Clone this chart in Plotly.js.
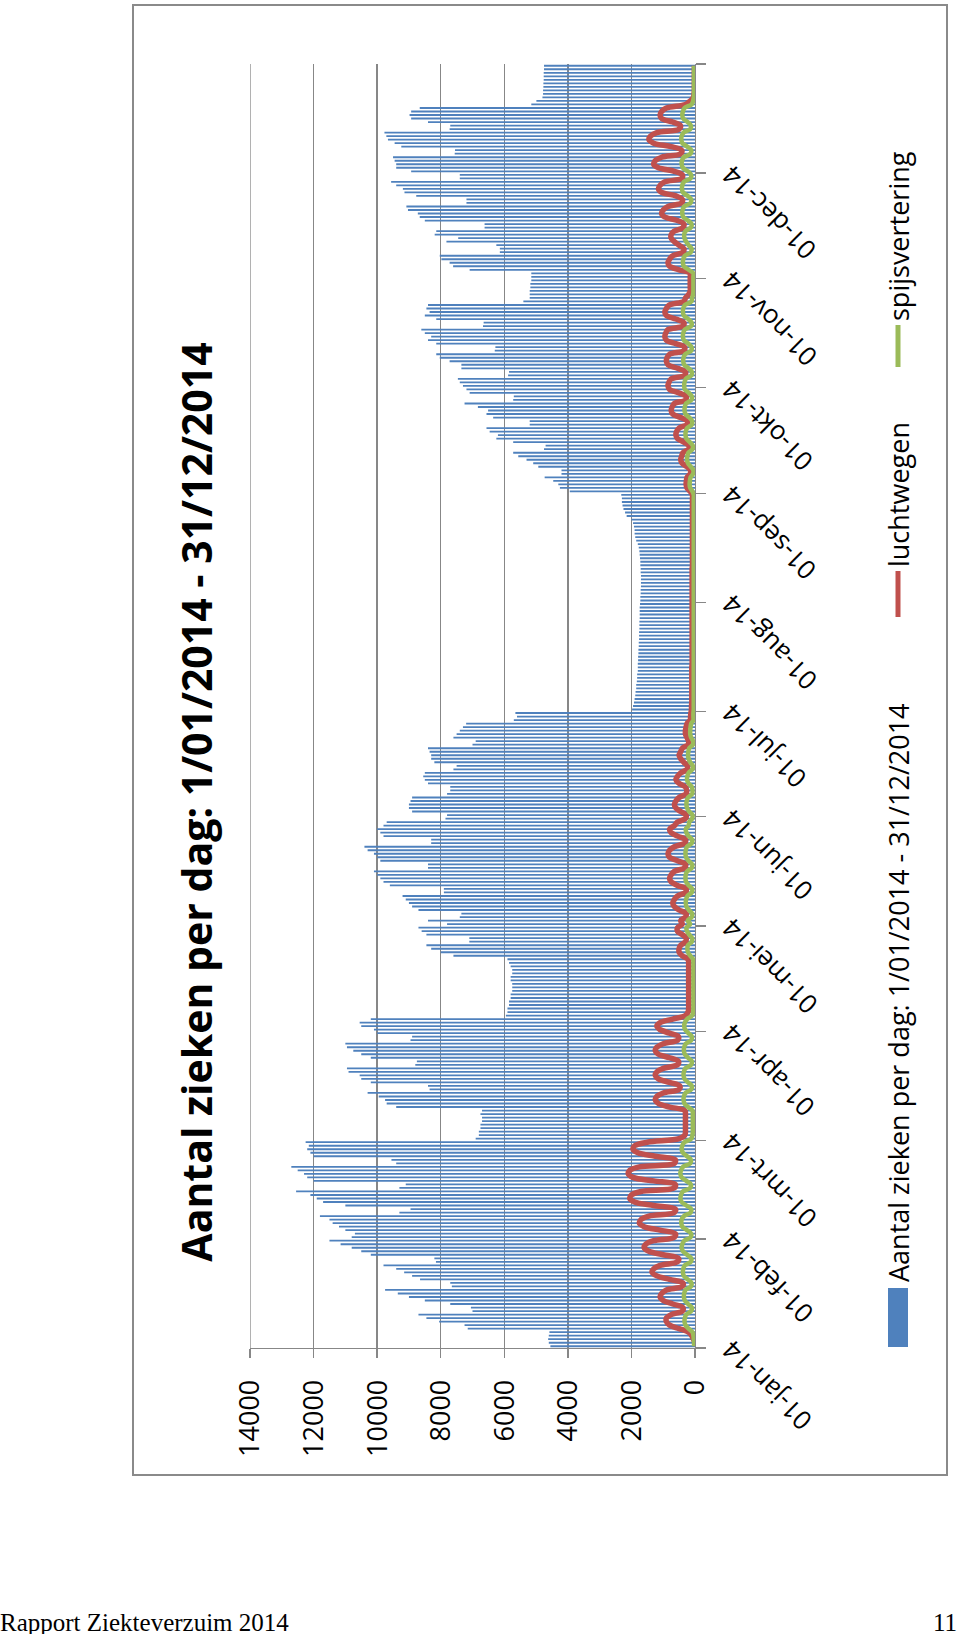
<!DOCTYPE html>
<html>
<head>
<meta charset="utf-8">
<script src="https://cdn.plot.ly/plotly-3.0.1.min.js"></script>
<style>
  html, body { margin:0; padding:0; background:#fff; }
  body { position:relative; width:960px; height:1634px; overflow:hidden; }
  #rot { position:absolute; left:132px; top:1476px; width:1472px; height:816px;
         transform-origin:0 0; transform:rotate(-90deg); }
  #chart { position:absolute; left:0; top:0; width:1472px; height:816px; }
  #frame { position:absolute; left:0; top:0; width:1472px; height:816px; box-sizing:border-box;
           border:2.5px solid #8a8a8a; pointer-events:none; }
  .foot { position:absolute; top:1610px; font-family:"Liberation Serif", serif; font-size:25px;
          line-height:25px; color:#000; white-space:nowrap; }
</style>
</head>
<body>
<div id="rot"><div id="chart"></div><div id="frame"></div></div>
<div class="foot" style="left:0px;">Rapport Ziekteverzuim 2014</div>
<div class="foot" style="right:3px;">11</div>
<script>
// ---------- data ----------
const chartTitle = 'Aantal zieken per dag: 1/01/2014 - 31/12/2014';
const seriesNames = ['Aantal zieken per dag: 1/01/2014 - 31/12/2014', 'luchtwegen', 'spijsvertering'];
const monthTicks = ['2014-01-01','2014-02-01','2014-03-01','2014-04-01','2014-05-01','2014-06-01',
                    '2014-07-01','2014-08-01','2014-09-01','2014-10-01','2014-11-01','2014-12-01','2015-01-01'];
const monthLabels = ['01-jan-14','01-feb-14','01-mrt-14','01-apr-14','01-mei-14','01-jun-14',
                     '01-jul-14','01-aug-14','01-sep-14','01-okt-14','01-nov-14','01-dec-14',''];
const valueTicks = [0,2000,4000,6000,8000,10000,12000,14000];
const valueLabels = ['0','2000','4000','6000','8000','10000','12000','14000'];

// Aantal zieken per dag (one value per day, 1 jan .. 31 dec 2014)
const sick = [
 // jan
 4550,4600,4620,4600,4580, 7150,7250,8050,8450,8700,7000,7050, 7700,8500,9000,9350,9750,7650,7700,
 8650,8900,9150,9400,9800,8150,8200, 10200,10500,10800,11150,11500,
 // feb
 10800,10700, 11000,11200,11400,11500,11800,9300,8950, 11000,11700,11900,12100,12550,9300,9100,
 12000,12200,12300,12500,12700,9400,9550, 12000,12100,12200,12150,12250,
 // mrt
 6900,6800,6800,6750,6750,6700,6700,6750,6700, 9400,9700,9750,9950,10300,8350,8400,
 10200,10500,10550,10900,10950,8800,8750, 10200,10500,10750,10950,11000,8950,8900, 10000,
 // apr
 10100,10500,10550,10200, 5950,5900,5900,5850,5850,5800,5800,5750,5750,5750,5800,5800,5750,5750,5800,5850,5900,
 7600,8000,8300,8450,7100,7100, 8450,8600,8700,
 // mei
 7800,8400,7400,7350, 8700,8900,9000,9100,9200,7900,7900, 9600,9800,9900,10000,10100,8400,8400,
 9900,10000,10100,10300,10400,8300,8300, 9800,9900,10000,9800,9700,7850,
 // jun
 7800, 8900,9000,9000,8950,8900,7800,7700, 7700,8400,8500,8550,8500,7600,7500,
 8200,8300,8300,8350,8400,7000,6900, 7600,7500,7400,7300,7200,5700,5600, 5650,
 // jul
 1980,1950,1920,1900,1880,1870,1850,1850,1830,1820, 1820,1800,1800,1800,1790,1790,1780,1780,1770,1770,
 1760,1760,1760,1750,1750,1750,1740,1740,1740,1740,1730,
 // aug
 1720,1720,1710,1710,1700,1700,1700,1700,1710,1710,1720,1720,1730,1740,1750,1770,1800,
 1850,1880,1900,1900,1920,1950,2000, 2150,2200,2250,2280,2300,2300,2320,
 // sep
 3940,4250,4300,4460,4730,4200,4200, 4930,5090,5300,5560,5720,4750,4700,
 5720,6250,6200,6460,6560,5200,5200, 6350,6560,6510,6830,7250,5720,5700, 7090,7190,
 // okt
 7300,7400,7460,5880,5850, 7350,7350,7720,8030,8140,6300,6280, 8140,8400,8300,8500,8610,6670,6650,
 8140,8500,8350,8450,8400,5400,5200, 5200,5200,5180,5180,5150,
 // nov
 5150,5150, 7090,7610,7720,7980,8030,6140,6140, 6250,7820,7450,8190,8140,6620,6620,
 8500,8660,8720,9030,9080,7190,7190, 8770,9140,9190,9400,9560,7400,7400,
 // dec
 8930,9400,9400,9450,9500,7560,7550, 9240,9450,9660,9710,9770,7720,7700,
 8400,8930,8980,8930,8660,5150,4990, 4800,4780,4780,4770,4770,4760,4760,4760,4750,4750
];

// luchtwegen
const resp = [
 // jan
 0,0,50,100,200, 500,800,900,900,750,400,380, 700,1000,1100,1050,900,400,380,
 800,1200,1350,1300,1100,550,520, 1000,1450,1600,1550,1300,
 // feb
 650,620, 1100,1600,1750,1700,1450,650,620, 1300,1900,2050,2000,1700,650,620,
 1300,1950,2100,2050,1750,650,620, 1250,1800,1950,1900,1500,
 // mrt
 500,320,300,300,300,300,300,300,320, 800,1150,1250,1200,1000,500,480,
 800,1150,1250,1200,1000,550,520, 800,1150,1250,1200,1000,550,520, 800,
 // apr
 1100,1200,1100,700, 300,220,200,200,200,200,200,200,200,200,200,200,200,200,200,200,220,
 400,500,500,450,300,280, 400,550,550,
 // mei
 400,450,300,280, 500,650,700,650,550,300,280, 550,750,800,750,650,330,300,
 550,800,850,800,650,330,300, 550,750,800,650,550,300,
 // jun
 280, 450,600,650,600,500,280,260, 300,500,600,550,450,250,240,
 350,450,500,450,400,220,200, 250,300,300,280,250,150,140, 130,
 // jul
 110,110,100,100,100,100,100,100,100,100, 100,100,100,90,90,90,90,90,90,90,
 90,90,90,90,90,90,90,90,90,90,90,
 // aug
 90,90,90,90,90,90,90,90,90,90, 80,80,80,80,80,80,80,80,80,80,
 80,80,80,80,80,80,80,80,80,80,80,
 // sep
 150,250,280,270,250,150,140, 250,400,450,420,380,200,190,
 350,550,600,580,500,250,240, 450,700,750,720,650,300,280, 500,800,
 // okt
 850,820,750,330,300, 550,850,900,880,800,350,330, 600,900,950,920,850,380,350,
 600,900,950,900,800,350,300, 200,150,150,150,150,
 // nov
 150,150, 500,800,850,800,700,380,350, 500,650,750,750,650,380,350,
 550,950,1050,1000,850,420,400, 600,1050,1150,1100,950,420,400,
 // dec
 650,1150,1300,1250,1050,450,420, 750,1300,1450,1400,1200,500,460,
 700,1050,1100,1050,900,300,150, 50,30,20,20,20,20,20,20,20,20
];

// spijsvertering
const dig = [
 // jan
 30,30,40,50,80, 200,300,330,320,280,120,100, 220,320,350,340,300,130,110,
 230,350,380,370,320,130,120, 250,380,420,400,340,
 // feb
 140,120, 250,400,430,420,350,140,120, 270,420,460,440,380,150,130,
 270,420,460,440,380,150,130, 250,380,420,400,330,
 // mrt
 120,80,70,70,70,70,70,70,80, 220,330,360,350,300,120,100,
 220,330,360,350,300,120,100, 220,320,350,340,290,120,100, 210,
 // apr
 310,340,320,250, 90,60,50,50,50,50,50,50,50,50,50,50,50,50,50,50,60,
 150,220,240,220,100,90, 180,250,270,
 // mei
 150,230,100,90, 190,270,290,280,240,100,90, 200,280,300,290,250,100,90,
 200,280,300,290,250,100,90, 200,270,290,200,180,90,
 // jun
 80, 180,250,270,260,220,90,80, 100,200,250,240,200,80,70,
 150,200,220,210,180,70,60, 120,150,150,140,120,50,50, 50,
 // jul
 40,40,40,40,40,40,40,40,40,40, 40,40,40,40,40,40,40,40,40,40,
 40,40,40,40,40,40,40,40,40,40,40,
 // aug
 40,40,40,40,40,40,40,40,40,40, 40,40,40,40,40,40,40,40,40,40,
 40,40,40,40,40,40,40,40,40,40,40,
 // sep
 80,150,170,160,140,60,50, 130,220,250,240,210,80,70,
 160,270,300,290,250,100,90, 180,300,330,320,280,110,100, 190,320,
 // okt
 340,330,290,110,100, 200,340,370,360,310,120,110, 210,350,380,370,320,120,110,
 210,350,380,370,320,110,90, 60,50,50,50,50,
 // nov
 50,50, 200,350,380,370,320,130,110, 200,280,330,340,300,130,110,
 220,370,400,390,340,140,120, 230,380,410,400,350,140,120,
 // dec
 230,380,420,410,350,140,120, 240,400,430,420,360,150,130,
 230,370,400,380,330,110,60, 40,30,30,30,30,30,30,30,30,30
];

// one category per day of 2014 (bars centred in the day slot)
const days = [];
for (let i = 0; i < sick.length; i++) {
  const d = new Date(Date.UTC(2014, 0, 1 + i));
  days.push(d.toISOString().slice(0, 10) + ' 12:00');
}

// ---------- layout ----------
const W = 1472, H = 816;
const ML = 128, MR = 60, MT = 118, MB = 253;
const PW = W - ML - MR, PH = H - MT - MB;
const px = lx => (lx - ML) / PW;        // pixel -> paper x
const py = ly => (MT + PH - ly) / PH;   // pixel -> paper y
const FONT = '"Open Sans", "DejaVu Sans", sans-serif';
const GRID = '#878787';
const LEG_Y = 766;

const traces = [
  { type:'bar', x:days, y:sick, name:seriesNames[0], width:0.52*86400000,
    marker:{ color:'#4F81BD', line:{ width:0 } } },
  { type:'scatter', mode:'lines', x:days, y:resp, name:seriesNames[1],
    line:{ color:'#C0504D', width:5.5, shape:'spline', smoothing:1 } },
  { type:'scatter', mode:'lines', x:days, y:dig, name:seriesNames[2],
    line:{ color:'#9BBB59', width:4.5, shape:'spline', smoothing:1 } }
];

const layout = {
  width:W, height:H,
  margin:{ l:ML, r:MR, t:MT, b:MB, pad:0 },
  paper_bgcolor:'#fff', plot_bgcolor:'#fff',
  font:{ family:FONT, color:'#000' },
  showlegend:false,
  hovermode:false,
  title:{ text:chartTitle, font:{ family:FONT, size:41, weight:'bold', color:'#000' },
          xref:'container', yref:'container', x:674/W, xanchor:'center', y:1 - 66/H, yanchor:'middle' },
  xaxis:{ type:'date', range:['2014-01-01','2015-01-01'], tickmode:'array',
          tickvals:monthTicks, ticktext:monthLabels, tickangle:-45,
          ticks:'outside', ticklen:10, tickwidth:1.3, tickcolor:GRID,
          showline:true, linecolor:GRID, linewidth:1.3, showgrid:false, zeroline:false,
          tickfont:{ family:FONT, size:26, color:'#000' }, fixedrange:true },
  yaxis:{ range:[0,14000], tickmode:'array', tickvals:valueTicks, ticktext:valueLabels,
          ticks:'outside', ticklen:9, tickwidth:1.3, tickcolor:GRID,
          showline:true, linecolor:GRID, linewidth:1.3,
          showgrid:true, gridcolor:GRID, gridwidth:1.3, zeroline:false,
          ticklabelstandoff:16,
          tickfont:{ family:FONT, size:27, color:'#000' }, fixedrange:true },
  shapes:[
    // top gridline (14000) drawn at the edge of the value range
    { type:'line', xref:'paper', yref:'y', x0:0, x1:1, y0:valueTicks[valueTicks.length-1], y1:valueTicks[valueTicks.length-1],
      line:{ color:GRID, width:1.3 }, layer:'below' },
    { type:'rect', xref:'paper', yref:'paper', x0:px(129), x1:px(188), y0:py(LEG_Y+10), y1:py(LEG_Y-10),
      fillcolor:'#4F81BD', line:{ width:0 } },
    { type:'line', xref:'paper', yref:'paper', x0:px(859), x1:px(905), y0:py(LEG_Y), y1:py(LEG_Y),
      line:{ color:'#C0504D', width:5 } },
    { type:'line', xref:'paper', yref:'paper', x0:px(1109), x1:px(1151), y0:py(LEG_Y), y1:py(LEG_Y),
      line:{ color:'#9BBB59', width:5 } }
  ],
  annotations:[
    { xref:'paper', yref:'paper', x:px(192), y:py(LEG_Y), xanchor:'left', yanchor:'middle', showarrow:false,
      text:seriesNames[0], font:{ family:FONT, size:27, color:'#000' } },
    { xref:'paper', yref:'paper', x:px(907), y:py(LEG_Y), xanchor:'left', yanchor:'middle', showarrow:false,
      text:seriesNames[1], font:{ family:FONT, size:27, color:'#000' } },
    { xref:'paper', yref:'paper', x:px(1153), y:py(LEG_Y), xanchor:'left', yanchor:'middle', showarrow:false,
      text:seriesNames[2], font:{ family:FONT, size:27, color:'#000' } }
  ]
};

Plotly.newPlot('chart', traces, layout, { staticPlot:true, displayModeBar:false });
</script>
</body>
</html>
